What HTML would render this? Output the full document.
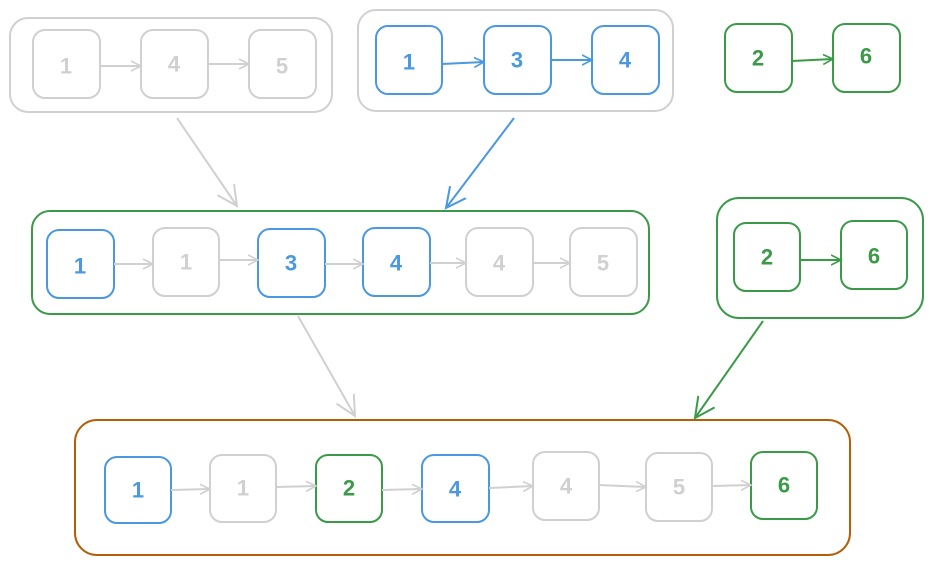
<!DOCTYPE html>
<html><head><meta charset="utf-8"><style>
html,body{margin:0;padding:0;background:#fff;}
svg{display:block;}
text{font-family:"Liberation Sans",sans-serif;font-size:22px;font-weight:bold;text-anchor:middle;dominant-baseline:central;}
</style></head><body>
<svg width="933" height="566" viewBox="0 0 933 566" xmlns="http://www.w3.org/2000/svg">
<defs>
<marker id="ag" markerWidth="12" markerHeight="12" refX="10" refY="6" orient="auto" markerUnits="userSpaceOnUse"><path d="M0,1 L10,6 L0,11" fill="none" stroke="#d0d0d0" stroke-width="1.6"/></marker>
<marker id="ab" markerWidth="12" markerHeight="12" refX="10" refY="6" orient="auto" markerUnits="userSpaceOnUse"><path d="M0,1 L10,6 L0,11" fill="none" stroke="#4a98e0" stroke-width="1.6"/></marker>
<marker id="an" markerWidth="12" markerHeight="12" refX="10" refY="6" orient="auto" markerUnits="userSpaceOnUse"><path d="M0,1 L10,6 L0,11" fill="none" stroke="#3a9a48" stroke-width="1.6"/></marker>
<marker id="bg" markerWidth="24" markerHeight="24" refX="20" refY="12" orient="auto" markerUnits="userSpaceOnUse"><path d="M0,2 L20,12 L0,22" fill="none" stroke="#d0d0d0" stroke-width="2"/></marker>
<marker id="bb" markerWidth="24" markerHeight="24" refX="20" refY="12" orient="auto" markerUnits="userSpaceOnUse"><path d="M0,2 L20,12 L0,22" fill="none" stroke="#4a98e0" stroke-width="2"/></marker>
<marker id="bn" markerWidth="24" markerHeight="24" refX="20" refY="12" orient="auto" markerUnits="userSpaceOnUse"><path d="M0,2 L20,12 L0,22" fill="none" stroke="#3a9a48" stroke-width="2"/></marker>
</defs>
<g fill="none" stroke-width="2">
<!-- containers -->
<rect x="10" y="18" width="322" height="94" rx="18" stroke="#d0d0d0"/>
<rect x="358" y="10" width="315" height="101" rx="18" stroke="#d0d0d0"/>
<rect x="32" y="211" width="617" height="103" rx="18" stroke="#3a9a48"/>
<rect x="717" y="198" width="206" height="120" rx="22" stroke="#3a9a48"/>
<rect x="75" y="420" width="775" height="135" rx="22" stroke="#b35f0a"/>
<!-- big arrows -->
<line x1="177" y1="118" x2="237" y2="206" stroke="#d0d0d0" marker-end="url(#bg)"/>
<line x1="514" y1="118" x2="446" y2="208" stroke="#4a98e0" marker-end="url(#bb)"/>
<line x1="298" y1="316" x2="355" y2="416" stroke="#d0d0d0" marker-end="url(#bg)"/>
<line x1="763" y1="321" x2="695" y2="418" stroke="#3a9a48" marker-end="url(#bn)"/>
</g>
<g stroke-width="2" fill="none">
<!-- top-left -->
<rect x="33" y="30" width="67" height="68" rx="12" stroke="#d0d0d0"/>
<rect x="141" y="30" width="67" height="68" rx="12" stroke="#d0d0d0"/>
<rect x="249" y="30" width="67" height="68" rx="12" stroke="#d0d0d0"/>
<line x1="100" y1="66" x2="141" y2="66" stroke="#d0d0d0" marker-end="url(#ag)"/>
<line x1="208" y1="64" x2="249" y2="64" stroke="#d0d0d0" marker-end="url(#ag)"/>
<!-- top-mid -->
<rect x="376" y="26" width="66" height="68" rx="12" stroke="#4a98e0"/>
<rect x="484" y="26" width="67" height="68" rx="12" stroke="#4a98e0"/>
<rect x="592" y="26" width="67" height="68" rx="12" stroke="#4a98e0"/>
<line x1="442" y1="64" x2="484" y2="62" stroke="#4a98e0" marker-end="url(#ab)"/>
<line x1="551" y1="60" x2="592" y2="60" stroke="#4a98e0" marker-end="url(#ab)"/>
<!-- top-right -->
<rect x="725" y="24" width="67" height="68" rx="12" stroke="#3a9a48"/>
<rect x="833" y="24" width="67" height="68" rx="12" stroke="#3a9a48"/>
<line x1="792" y1="61" x2="833" y2="59" stroke="#3a9a48" marker-end="url(#an)"/>
<!-- middle -->
<rect x="47" y="230" width="67" height="68" rx="12" stroke="#4a98e0"/>
<rect x="153" y="228" width="66" height="68" rx="12" stroke="#d0d0d0"/>
<rect x="258" y="229" width="67" height="68" rx="12" stroke="#4a98e0"/>
<rect x="363" y="228" width="67" height="68" rx="12" stroke="#4a98e0"/>
<rect x="466" y="228" width="67" height="68" rx="12" stroke="#d0d0d0"/>
<rect x="570" y="228" width="67" height="68" rx="12" stroke="#d0d0d0"/>
<line x1="114" y1="264" x2="153" y2="264" stroke="#d0d0d0" marker-end="url(#ag)"/>
<line x1="219" y1="260" x2="258" y2="260" stroke="#d0d0d0" marker-end="url(#ag)"/>
<line x1="325" y1="264" x2="363" y2="264" stroke="#d0d0d0" marker-end="url(#ag)"/>
<line x1="430" y1="263" x2="466" y2="263" stroke="#d0d0d0" marker-end="url(#ag)"/>
<line x1="533" y1="263" x2="570" y2="263" stroke="#d0d0d0" marker-end="url(#ag)"/>
<!-- right group -->
<rect x="734" y="223" width="66" height="68" rx="12" stroke="#3a9a48"/>
<rect x="841" y="221" width="66" height="68" rx="12" stroke="#3a9a48"/>
<line x1="800" y1="260" x2="841" y2="260" stroke="#3a9a48" marker-end="url(#an)"/>
<!-- bottom -->
<rect x="105" y="457" width="66" height="66" rx="12" stroke="#4a98e0"/>
<rect x="210" y="455" width="66" height="67" rx="12" stroke="#d0d0d0"/>
<rect x="316" y="455" width="66" height="67" rx="12" stroke="#3a9a48"/>
<rect x="422" y="455" width="67" height="67" rx="12" stroke="#4a98e0"/>
<rect x="533" y="452" width="66" height="68" rx="12" stroke="#d0d0d0"/>
<rect x="646" y="453" width="66" height="68" rx="12" stroke="#d0d0d0"/>
<rect x="751" y="452" width="66" height="67" rx="12" stroke="#3a9a48"/>
<line x1="171" y1="490" x2="210" y2="489" stroke="#d0d0d0" marker-end="url(#ag)"/>
<line x1="276" y1="487" x2="316" y2="486" stroke="#d0d0d0" marker-end="url(#ag)"/>
<line x1="382" y1="490" x2="422" y2="489" stroke="#d0d0d0" marker-end="url(#ag)"/>
<line x1="489" y1="488" x2="533" y2="486" stroke="#d0d0d0" marker-end="url(#ag)"/>
<line x1="599" y1="485" x2="646" y2="487" stroke="#d0d0d0" marker-end="url(#ag)"/>
<line x1="712" y1="486" x2="751" y2="485" stroke="#d0d0d0" marker-end="url(#ag)"/>
</g>
<g>
<text x="66" y="66" fill="#d0d0d0">1</text>
<text x="174" y="64" fill="#d0d0d0">4</text>
<text x="282" y="66" fill="#d0d0d0">5</text>
<text x="409" y="62" fill="#4a98e0">1</text>
<text x="517" y="60" fill="#4a98e0">3</text>
<text x="625" y="60" fill="#4a98e0">4</text>
<text x="758" y="58" fill="#3a9a48">2</text>
<text x="866" y="56" fill="#3a9a48">6</text>
<text x="80" y="266" fill="#4a98e0">1</text>
<text x="186" y="262" fill="#d0d0d0">1</text>
<text x="291" y="263" fill="#4a98e0">3</text>
<text x="396" y="263" fill="#4a98e0">4</text>
<text x="499" y="263" fill="#d0d0d0">4</text>
<text x="603" y="263" fill="#d0d0d0">5</text>
<text x="767" y="257" fill="#3a9a48">2</text>
<text x="874" y="256" fill="#3a9a48">6</text>
<text x="138" y="490" fill="#4a98e0">1</text>
<text x="243" y="488" fill="#d0d0d0">1</text>
<text x="349" y="488" fill="#3a9a48">2</text>
<text x="455" y="489" fill="#4a98e0">4</text>
<text x="566" y="486" fill="#d0d0d0">4</text>
<text x="679" y="487" fill="#d0d0d0">5</text>
<text x="784" y="485" fill="#3a9a48">6</text>
</g>
</svg>
</body></html>
